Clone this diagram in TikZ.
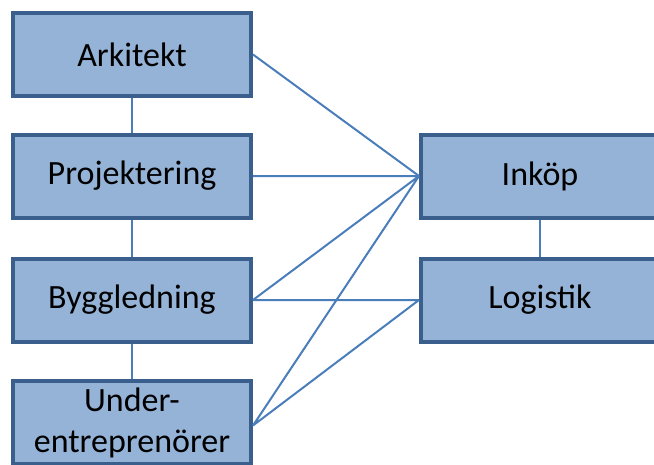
\documentclass[tikz,border=0pt]{standalone}
\usepackage{fontspec}
\setmainfont{Carlito}
\usepackage{xcolor}
\definecolor{boxfill}{HTML}{95B3D7}
\definecolor{boxline}{HTML}{3B5F8C}
\definecolor{linkline}{HTML}{4A7EBB}

\begin{document}
\begin{tikzpicture}[x=1pt,y=-1pt,
    box/.style={draw=boxline,fill=boxfill,line width=4pt,minimum width=238pt,minimum height=83pt,
                align=center,font=\fontsize{34}{41}\selectfont},
    link/.style={draw=linkline,line width=2pt}]
            \clip (0,0) rectangle (654,464);
            \node (ark) at (132,54.5) [box] {Arkitekt};
            \node (pro) at (132,176) [box] {Projektering};
            \node (byg) at (132,300) [box] {Byggledning};
            \node (ue) at (132,422.5) [box] {Under-\\entreprenörer};
            \node (ink) at (540,176) [box] {Inköp};
            \node (log) at (540,300) [box] {Logistik};
            \draw[link] (ark) -- (pro) (pro) -- (byg) (byg) -- (ue) (ink) -- (log);
            \draw[link] (ark.east) -- (ink.west) (pro.east) -- (ink.west) (byg.east) -- (ink.west)
                (byg.east) -- (log.west) ([yshift=-3pt]ue.east) -- (ink.west) ([yshift=-3pt]ue.east) -- (log.west);
        \end{tikzpicture}
\end{document}
